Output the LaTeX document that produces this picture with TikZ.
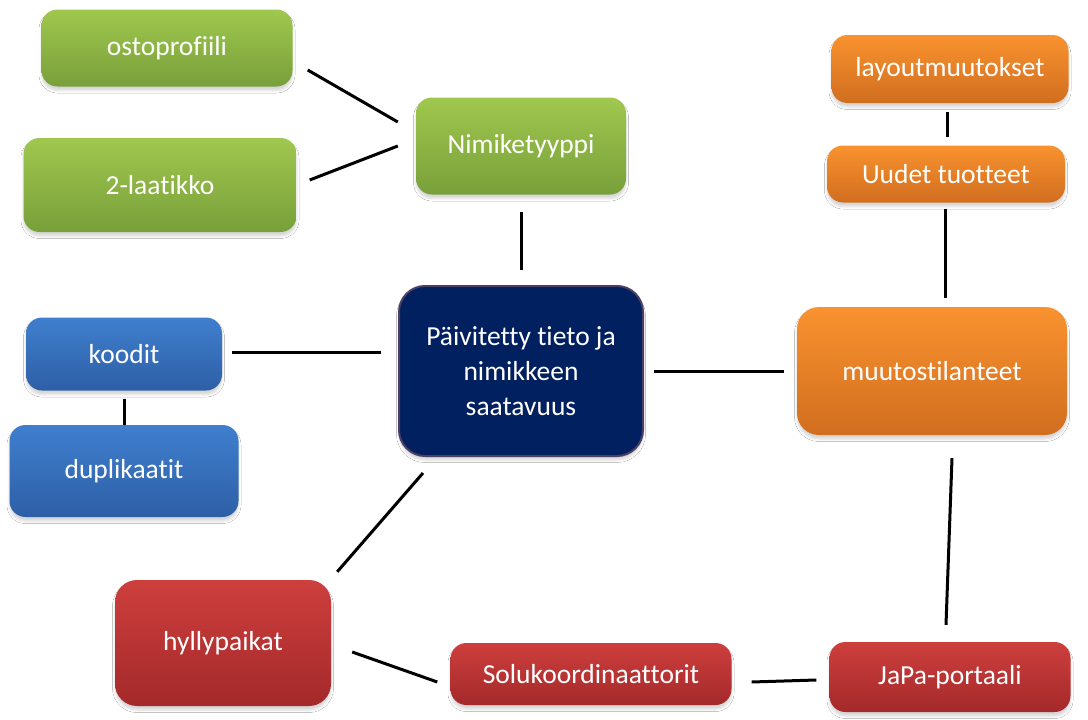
\documentclass[tikz,border=0pt]{standalone}
\usepackage{fontspec}
\setmainfont[Ligatures={NoCommon}]{Carlito}
\usetikzlibrary{shadows.blur}
\definecolor{grtop}{HTML}{A0C74E}
\definecolor{grbot}{HTML}{78A03A}
\definecolor{ortop}{HTML}{F9922F}
\definecolor{orbot}{HTML}{D16E1F}
\definecolor{bltop}{HTML}{3F7FCE}
\definecolor{blbot}{HTML}{2E5FA6}
\definecolor{rdtop}{HTML}{CD3F3D}
\definecolor{rdbot}{HTML}{A4292A}
\definecolor{navy}{HTML}{002060}
\definecolor{navyedge}{HTML}{4B3F63}
\tikzset{
  box/.style={rectangle, rounded corners=16pt, text=white, inner sep=0pt,
    font=\fontsize{27.5}{35}\selectfont, align=center,
    blur shadow={shadow blur steps=5, shadow xshift=0pt, shadow yshift=-4pt, shadow opacity=16, shadow blur radius=2.5pt}},
  green/.style={box, top color=grtop, bottom color=grbot},
  orange/.style={box, top color=ortop, bottom color=orbot},
  blue/.style={box, top color=bltop, bottom color=blbot},
  red/.style={box, top color=rdtop, bottom color=rdbot},
  core/.style={box, fill=navy, draw=navyedge, line width=2pt, rounded corners=26pt},
  link/.style={draw=black, line width=3pt},
}
\begin{document}
\begin{tikzpicture}[x=1pt,y=-1pt]
\useasboundingbox (0,0) rectangle (1088,720);
\fill[white] (0,0) rectangle (1088,720);

% boxes
\node[green, minimum width=251pt, minimum height=77pt] (ost) at (167,48) {ostoprofiili};
\node[green, minimum width=273pt, minimum height=94pt] (lat) at (160,185) {2-laatikko};
\node[green, minimum width=210pt, minimum height=97pt] (nim) at (521,146) {Nimiketyyppi};
\node[orange, minimum width=237pt, minimum height=68pt] (lay) at (950,69) {layoutmuutokset};
\node[orange, minimum width=238pt, minimum height=57pt] (uud) at (946,174) {Uudet tuotteet};
\node[orange, minimum width=270pt, minimum height=128pt, rounded corners=22pt] (muu) at (932,371) {muutostilanteet};
\node[core, minimum width=244pt, minimum height=170pt] (cen) at (521,371) {Päivitetty tieto ja\\nimikkeen\\saatavuus};
\node[blue, minimum width=196pt, minimum height=73pt] (koo) at (124,354) {koodit};
\node[blue, minimum width=229pt, minimum height=92pt] (dup) at (124,471) {duplikaatit};
\node[red, minimum width=216pt, minimum height=126pt, rounded corners=22pt] (hyl) at (223,643) {hyllypaikat};
\node[red, minimum width=281pt, minimum height=62pt] (sol) at (591,674) {Solukoordinaattorit};
\node[red, minimum width=241pt, minimum height=70pt] (jap) at (950,677) {JaPa-portaali};

% connectors
\draw[link] ([shift={(15,22)}]ost.east) -- ([shift={(-18,-24)}]nim.west);
\draw[link] ([shift={(13,-5)}]lat.east) -- ([shift={(-18,0)}]nim.west);
\draw[link] ([shift={(0,17)}]nim.south) -- ([shift={(0,-15)}]cen.north);
\draw[link] ([shift={(-3,9)}]lay.south) -- ([shift={(1,-8)}]uud.north);
\draw[link] ([shift={(-1,6)}]uud.south) -- ([shift={(13,-9)}]muu.north);
\draw[link] ([shift={(10,0)}]cen.east) -- ([shift={(-13,0)}]muu.west);
\draw[link] ([shift={(10,-2)}]koo.east) -- ([shift={(-17,-19)}]cen.west);
\draw[link] ([shift={(0,8)}]koo.south) -- ([shift={(0,0)}]dup.north);
\draw[link] ([shift={(25,16)}]cen.south west) -- ([shift={(6,-8)}]hyl.north east);
\draw[link] ([shift={(20,23)}]muu.south) -- ([shift={(-4,-17)}]jap.north);
\draw[link] ([shift={(21,9)}]hyl.east) -- ([shift={(-13,8)}]sol.west);
\draw[link] ([shift={(20,8)}]sol.east) -- ([shift={(-13,3)}]jap.west);
\end{tikzpicture}
\end{document}
